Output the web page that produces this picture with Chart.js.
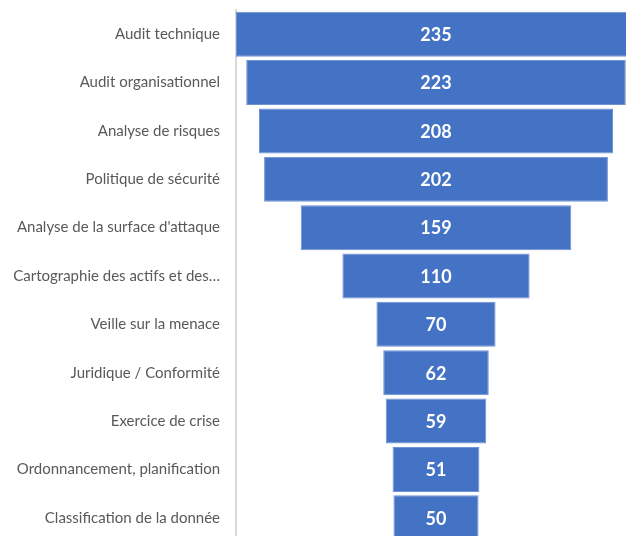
<!DOCTYPE html>
<html>
<head>
<meta charset="utf-8">
<script src="https://cdn.jsdelivr.net/npm/chart.js@4/dist/chart.umd.min.js"></script>
<style>
html,body{margin:0;padding:0;background:#fff;overflow:hidden;width:626px;height:536px;}
#wrap{position:absolute;left:0;top:0;width:636px;height:542px;}
</style>
</head>
<body>
<div id="wrap"><canvas id="c" width="636" height="542"></canvas></div>
<script>
const categories = [
  "Audit technique",
  "Audit organisationnel",
  "Analyse de risques",
  "Politique de sécurité",
  "Analyse de la surface d'attaque",
  "Cartographie des actifs et des…",
  "Veille sur la menace",
  "Juridique / Conformité",
  "Exercice de crise",
  "Ordonnancement, planification",
  "Classification de la donnée"
];
const values = [235, 223, 208, 202, 159, 110, 70, 62, 59, 51, 50];

const maxVal = Math.max(...values);
const floating = values.map(v => [-v / 2, v / 2]);

const valueLabels = {
  id: 'valueLabels',
  afterDatasetsDraw(chart) {
    const ctx = chart.ctx;
    const meta = chart.getDatasetMeta(0);
    ctx.save();
    ctx.fillStyle = '#ffffff';
    ctx.font = 'bold 18px Lato, "Open Sans", sans-serif';
    ctx.textAlign = 'center';
    ctx.textBaseline = 'middle';
    meta.data.forEach((bar, i) => {
      const x = chart.scales.x.getPixelForValue(0);
      ctx.fillText(String(values[i]), x, bar.y + 1);
    });
    ctx.restore();
  }
};

const chart = new Chart(document.getElementById('c'), {
  type: 'bar',
  data: {
    labels: categories,
    datasets: [{
      data: floating,
      backgroundColor: '#4472C4',
      borderColor: '#6f93d3',
      borderWidth: 1,
      borderSkipped: false,
      barPercentage: 0.93,
      categoryPercentage: 1.0
    }]
  },
  options: {
    indexAxis: 'y',
    responsive: false,
    animation: false,
    layout: { padding: { left: 0, right: 0, top: 10, bottom: 0 } },
    plugins: { legend: { display: false }, tooltip: { enabled: false } },
    scales: {
      x: {
        display: false,
        min: -maxVal / 2,
        max: maxVal / 2
      },
      y: {
        afterFit(scale) { scale.width = 236; scale.paddingTop = 0; scale.paddingBottom = 0; },
        grid: { display: false, drawTicks: false },
        border: { display: true, color: '#d9d9d9', width: 2 },
        ticks: {
          color: '#595959',
          padding: 16,
          font: { family: 'Lato, "Open Sans", sans-serif', size: 15 }
        }
      }
    }
  },
  plugins: [valueLabels]
});
</script>
</body>
</html>
